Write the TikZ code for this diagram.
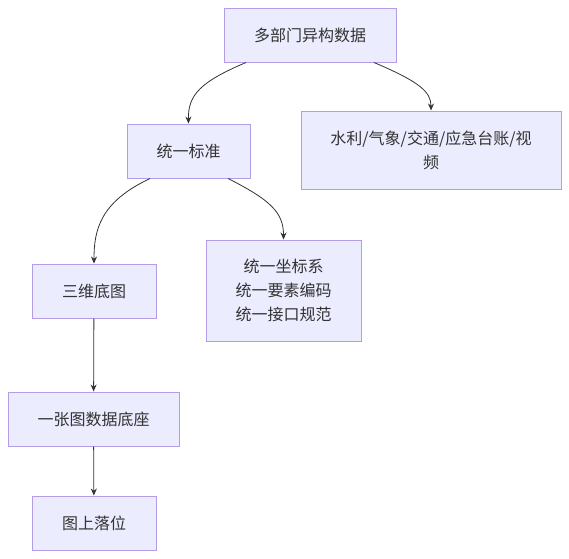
\documentclass[tikz,border=0pt]{standalone}
\usepackage{fontspec}
\setmainfont{Noto Sans CJK SC}
\usepackage{tikz}
\usetikzlibrary{
  calc
  , arrows.meta
}
\definecolor{boxfill}{HTML}{ECECFF}
\definecolor{boxline}{HTML}{B39DE8}
\definecolor{ink}{HTML}{333333}

\begin{document}
\begin{tikzpicture}[x=1pt,y=-1pt,
    box/.style={draw=boxline, fill=boxfill, line width=1pt,
      text=ink, font=\fontsize{16}{24}\selectfont, align=center,
      inner sep=0pt},
    link/.style={draw=ink, line width=0.8pt, -{Stealth[length=7pt,width=6pt]}}]
      \useasboundingbox (0,0) rectangle (569,558);

      \node [box, minimum width=172, minimum height=54] (src) at (310,35) {多部门异构数据};
      \node [box, minimum width=123, minimum height=54] (std) at (188.5,151) {统一标准};
      \node [box, minimum width=260, minimum height=78] (sys) at (431,150) {水利/气象/交通/应急台账/视\\频};
      \node [box, minimum width=124, minimum height=54] (base) at (94,291) {三维底图};
      \node [box, minimum width=155, minimum height=101] (unify) at (283.5,290.5) {统一坐标系\\统一要素编码\\统一接口规范};
      \node [box, minimum width=171, minimum height=54] (one) at (93.5,419) {一张图数据底座};
      \node [box, minimum width=124, minimum height=54] (pos) at (94,523) {图上落位};

      \coordinate (s1) at ($(src.south west)!0.13!(src.south east)$);
      \coordinate (s2) at ($(src.south west)!0.87!(src.south east)$);
      \coordinate (t1) at ($(std.south west)!0.19!(std.south east)$);
      \coordinate (t2) at ($(std.south west)!0.82!(std.south east)$);

      \draw [link] (s1) .. controls (200,82) and (188,95) .. (std.north);
      \draw [link] (s2) .. controls (420,82) and (431,92) .. (sys.north);
      \draw [link] (t1) .. controls (100,202) and (94,230) .. (base.north);
      \draw [link] (t2) .. controls (270,200) and (283.5,212) .. (unify.north);
      \draw [link] (base) -- (one);
      \draw [link] (one) -- (pos);
    \end{tikzpicture}
\end{document}
